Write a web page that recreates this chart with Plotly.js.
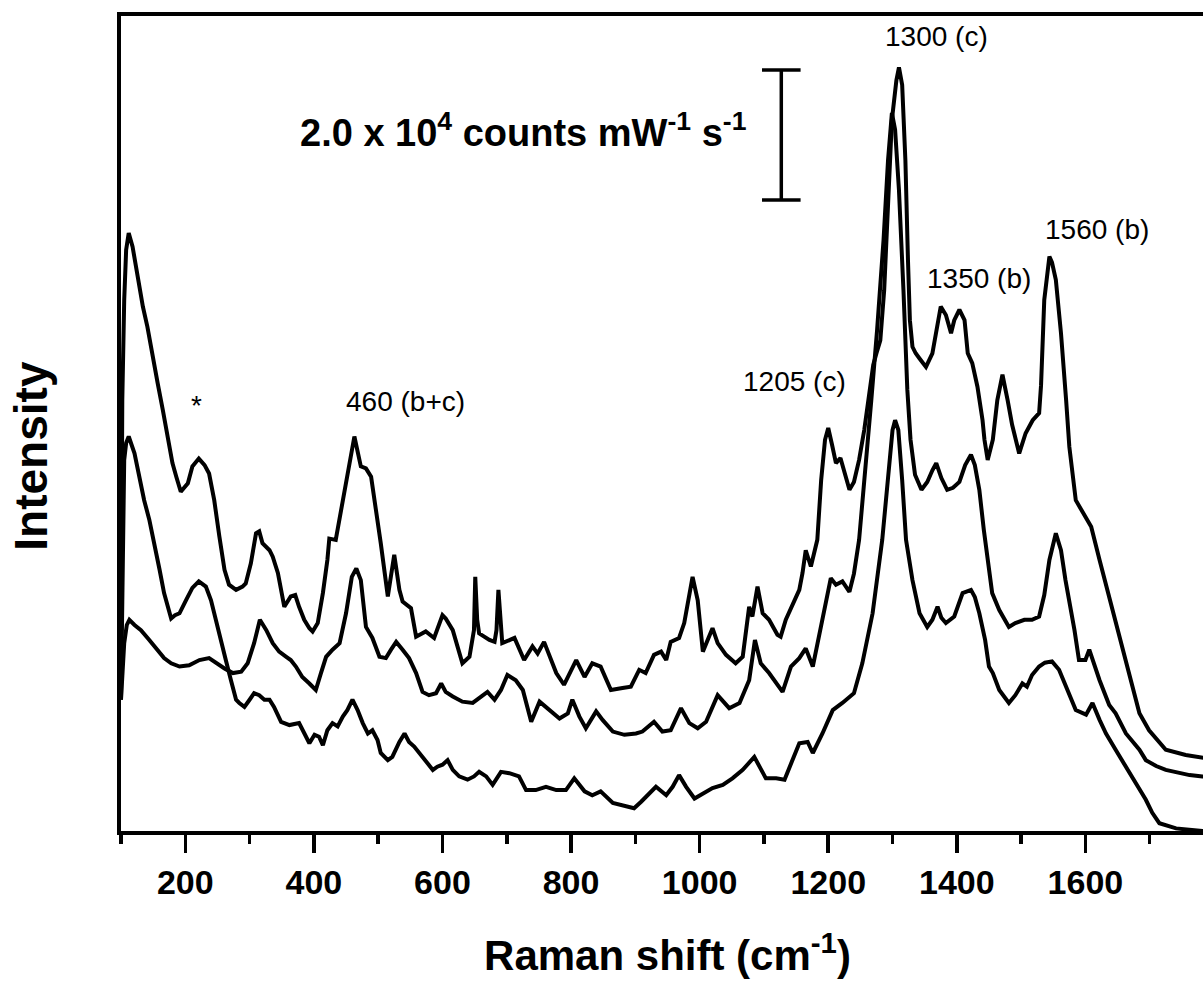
<!DOCTYPE html>
<html>
<head>
<meta charset="utf-8">
<script src="https://cdn.plot.ly/plotly-3.0.1.min.js"></script>
<style>
  html, body { margin: 0; padding: 0; overflow: hidden; background: #fff; }
  #chart { width: 1220px; height: 985px; }
</style>
</head>
<body>
<div id="chart"></div>
<script>
// Raman shift (cm^-1) and stacked intensity (10^4 counts mW^-1 s^-1) for the three spectra
const topShift = [100,102,105,108,112,118,126,134,141,149,157,165,172,180,186,193,204,211,221,230,237,245,253,261,268,279,289,294,302,310,315,320,331,336,344,354,364,371,377,385,393,398,406,414,421,424,434,445,452,463,473,481,489,497,504,515,525,533,538,551,559,574,587,600,605,616,631,642,649,651,654,657,673,681,684,687,691,693,712,727,740,748,758,777,789,808,821,833,846,862,880,893,906,916,929,940,948,955,968,976,989,997,1005,1020,1028,1041,1056,1067,1077,1082,1090,1098,1108,1121,1126,1134,1155,1160,1165,1173,1183,1189,1195,1200,1206,1212,1219,1225,1233,1240,1248,1256,1264,1270,1275,1281,1287,1293,1299,1306,1310,1315,1320,1324,1327,1331,1336,1342,1352,1362,1370,1375,1383,1391,1396,1404,1412,1417,1424,1432,1440,1443,1448,1456,1463,1471,1479,1486,1497,1507,1518,1528,1531,1536,1544,1548,1554,1562,1570,1575,1585,1596,1609,1622,1637,1647,1663,1684,1699,1725,1756,1782,1800];
const topIntensity = [2.82,6.66,8.20,8.97,9.23,9.02,8.56,8.10,7.79,7.33,6.92,6.51,6.10,5.69,5.48,5.25,5.38,5.64,5.76,5.66,5.53,5.12,4.56,4.05,3.82,3.74,3.79,3.84,4.15,4.61,4.64,4.46,4.35,4.25,4.00,3.48,3.64,3.66,3.48,3.28,3.15,3.10,3.23,3.69,4.20,4.53,4.51,5.12,5.48,6.10,5.64,5.61,5.48,4.97,4.46,3.64,4.28,3.74,3.56,3.46,3.02,3.10,3.00,3.35,3.30,3.12,2.61,2.71,3.12,3.94,3.28,3.07,2.97,2.94,3.12,3.74,3.12,2.92,3.00,2.66,2.87,2.76,2.94,2.46,2.28,2.66,2.40,2.61,2.56,2.20,2.23,2.25,2.51,2.46,2.74,2.79,2.66,2.94,3.00,3.23,3.94,3.58,2.79,3.15,2.92,2.74,2.61,2.71,3.48,3.33,3.79,3.38,3.28,3.05,3.02,3.28,3.74,4.00,4.35,4.10,4.51,5.43,6.05,6.23,5.97,5.69,5.77,5.58,5.28,5.40,5.74,6.20,6.74,7.20,7.38,7.58,8.35,9.74,10.97,11.58,11.78,11.51,10.35,8.82,7.89,7.48,7.38,7.30,7.17,7.38,7.79,8.10,7.97,7.69,7.89,8.05,7.89,7.38,7.23,6.87,6.35,6.05,5.74,6.05,6.66,7.05,6.66,6.28,5.84,6.15,6.35,6.46,6.89,8.20,8.87,8.78,8.51,7.69,6.66,5.94,5.12,4.92,4.71,4.20,3.64,3.28,2.66,1.84,1.58,1.28,1.20,1.15,1.13];

const midShift = [100,102,105,109,113,121,131,144,157,167,178,191,206,222,237,248,261,274,287,297,307,316,326,336,346,357,364,372,382,393,403,411,419,429,440,450,459,466,473,481,491,502,512,520,528,538,548,559,569,579,590,598,605,616,631,647,657,670,681,691,701,714,725,738,751,766,782,795,802,813,823,839,849,865,883,901,911,929,942,955,971,984,997,1010,1028,1046,1062,1077,1086,1095,1108,1129,1142,1155,1165,1176,1191,1204,1212,1222,1233,1240,1248,1258,1267,1276,1286,1293,1299,1304,1310,1317,1323,1328,1335,1345,1354,1362,1368,1376,1385,1394,1404,1413,1422,1428,1435,1442,1450,1455,1466,1474,1481,1491,1505,1517,1528,1536,1544,1554,1562,1569,1575,1583,1590,1600,1606,1612,1622,1637,1647,1663,1684,1694,1710,1725,1746,1762,1782,1800];
const midIntensity = [2.05,2.51,2.92,3.20,3.28,3.20,3.12,2.97,2.82,2.69,2.61,2.56,2.58,2.66,2.69,2.61,2.53,2.46,2.48,2.61,2.92,3.28,3.12,2.92,2.79,2.71,2.66,2.56,2.40,2.30,2.20,2.46,2.71,2.82,2.92,3.38,3.94,4.07,3.89,3.17,3.00,2.71,2.69,2.82,2.94,2.82,2.69,2.46,2.17,2.12,2.15,2.30,2.17,2.10,2.02,2.00,2.07,2.17,2.05,2.20,2.43,2.35,2.20,1.71,2.02,1.89,1.76,1.84,2.05,1.79,1.61,1.87,1.74,1.56,1.51,1.53,1.56,1.71,1.56,1.58,1.92,1.69,1.61,1.71,2.12,1.92,2.00,2.35,2.97,2.61,2.46,2.17,2.56,2.69,2.84,2.56,3.28,3.92,3.82,3.87,3.71,3.99,4.51,5.58,6.66,7.74,9.12,10.35,11.08,10.82,9.89,8.35,6.82,6.05,5.51,5.28,5.40,5.58,5.69,5.46,5.28,5.31,5.40,5.66,5.82,5.66,5.28,4.66,4.05,3.69,3.43,3.28,3.17,3.23,3.28,3.28,3.33,3.66,4.20,4.61,4.35,3.89,3.58,3.12,2.66,2.66,2.82,2.63,2.35,1.97,1.84,1.53,1.28,1.12,1.03,0.97,0.92,0.89,0.87,0.86];

const lowShift = [100,102,105,108,112,121,128,136,144,152,160,167,178,184,191,201,211,221,232,240,248,256,263,271,279,284,292,300,307,315,323,331,338,349,362,377,385,393,401,408,414,421,429,437,445,452,460,468,476,484,491,499,504,515,522,533,541,548,556,564,574,585,592,600,608,616,626,639,649,657,668,678,691,704,719,730,745,761,777,792,805,815,821,833,846,865,880,898,909,922,932,948,958,968,979,992,1005,1020,1036,1051,1067,1085,1103,1119,1132,1142,1155,1168,1176,1191,1207,1222,1240,1253,1269,1284,1293,1300,1304,1309,1315,1321,1331,1342,1354,1362,1370,1376,1383,1396,1409,1422,1428,1435,1444,1450,1456,1466,1481,1491,1502,1509,1517,1528,1537,1548,1559,1575,1585,1601,1611,1622,1632,1647,1663,1679,1694,1704,1715,1741,1762,1782,1800];
const lowIntensity = [2.05,4.20,5.74,6.00,6.10,5.84,5.48,5.12,4.82,4.46,4.05,3.69,3.30,3.35,3.38,3.58,3.77,3.87,3.79,3.58,3.28,2.97,2.66,2.35,2.05,2.00,1.94,2.05,2.15,2.12,2.05,2.05,1.94,1.71,1.66,1.69,1.53,1.38,1.51,1.48,1.35,1.58,1.69,1.64,1.79,1.89,2.05,1.89,1.69,1.53,1.58,1.43,1.23,1.12,1.17,1.40,1.53,1.40,1.33,1.23,1.12,0.97,1.02,1.05,1.12,0.97,0.87,0.82,0.87,0.94,0.87,0.74,0.94,0.92,0.87,0.66,0.66,0.71,0.66,0.66,0.84,0.71,0.64,0.58,0.64,0.46,0.43,0.38,0.48,0.61,0.71,0.58,0.71,0.89,0.71,0.53,0.61,0.69,0.74,0.84,0.97,1.17,0.84,0.84,0.82,1.07,1.38,1.40,1.23,1.53,1.89,2.00,2.15,2.61,3.38,4.51,5.43,6.20,6.35,6.20,5.43,4.51,3.89,3.38,3.17,3.28,3.48,3.31,3.23,3.33,3.69,3.74,3.63,3.38,2.97,2.56,2.46,2.20,2.00,2.12,2.30,2.25,2.43,2.56,2.62,2.64,2.51,2.12,1.89,1.82,2.00,1.74,1.53,1.28,1.02,0.74,0.51,0.31,0.15,0.07,0.05,0.03,0.03];

// Peak labels: text, Raman shift, intensity
const labelText = ['*', '460 (b+c)', '1205 (c)', '1300 (c)', '1350 (b)', '1560 (b)'];
const labelShift = [218, 542, 1147, 1369, 1434, 1618];
const labelIntensity = [6.57, 6.64, 6.94, 12.26, 8.53, 9.28];

// Intensity scale bar: 2.0 x 10^4 counts mW^-1 s^-1
const scaleBarShift = 1127;
const scaleBarBase = 9.74;
const scaleBarLength = 2.0;
const scaleBarCap = 30;

const FONT = '"Liberation Sans", Arial, Helvetica, sans-serif';
const lineStyle = { color: '#000', width: 4 };

const traces = [
  { x: topShift, y: topIntensity, type: 'scatter', mode: 'lines', line: lineStyle, hoverinfo: 'skip' },
  { x: midShift, y: midIntensity, type: 'scatter', mode: 'lines', line: lineStyle, hoverinfo: 'skip' },
  { x: lowShift, y: lowIntensity, type: 'scatter', mode: 'lines', line: lineStyle, hoverinfo: 'skip' }
];

const annotations = labelText.map((t, i) => ({
  x: labelShift[i], y: labelIntensity[i], xref: 'x', yref: 'y',
  text: t, showarrow: false, xanchor: 'center', yanchor: 'middle',
  font: { family: FONT, size: 28, color: '#000' }
}));

annotations.push({
  x: 726, y: 10.82, xref: 'x', yref: 'y',
  text: '2.0 x 10<sup>4</sup> counts mW<sup>-1</sup> s<sup>-1</sup>',
  showarrow: false, xanchor: 'center', yanchor: 'middle',
  font: { family: FONT, size: 38, color: '#000', weight: 'bold' }
});

annotations.push({
  x: -0.082, y: 0.461, xref: 'paper', yref: 'paper',
  text: 'Intensity', textangle: -90, showarrow: false,
  xanchor: 'center', yanchor: 'middle',
  font: { family: FONT, size: 46, color: '#000', weight: 'bold' }
});

const barTop = scaleBarBase + scaleBarLength;
const shapes = [
  { type: 'line', xref: 'x', yref: 'y', x0: scaleBarShift, x1: scaleBarShift, y0: scaleBarBase, y1: barTop, line: { color: '#000', width: 3.5 } },
  { type: 'line', xref: 'x', yref: 'y', x0: scaleBarShift - scaleBarCap, x1: scaleBarShift + scaleBarCap, y0: scaleBarBase, y1: scaleBarBase, line: { color: '#000', width: 3.5 } },
  { type: 'line', xref: 'x', yref: 'y', x0: scaleBarShift - scaleBarCap, x1: scaleBarShift + scaleBarCap, y0: barTop, y1: barTop, line: { color: '#000', width: 3.5 } }
];

const layout = {
  width: 1220, height: 985,
  margin: { l: 121, r: 6, t: 16, b: 154 },
  paper_bgcolor: '#fff', plot_bgcolor: '#fff',
  showlegend: false,
  font: { family: FONT, color: '#000' },
  xaxis: {
    range: [100, 1800],
    showline: true, linecolor: '#000', linewidth: 4, mirror: true,
    showgrid: false, zeroline: false,
    ticks: 'outside', ticklen: 18, tickwidth: 3.5, tickcolor: '#000',
    tick0: 0, dtick: 200,
    tickfont: { family: FONT, size: 34, color: '#000', weight: 'bold' },
    minor: { dtick: 100, ticks: 'outside', ticklen: 9, tickwidth: 3.5, tickcolor: '#000', showgrid: false },
    title: { text: 'Raman shift (cm<sup>-1</sup>)', standoff: 42,
             font: { family: FONT, size: 42, color: '#000', weight: 'bold' } },
    automargin: false
  },
  yaxis: {
    range: [0.03, 12.57],
    showline: true, linecolor: '#000', linewidth: 4, mirror: true,
    showgrid: false, zeroline: false, ticks: '', showticklabels: false,
    automargin: false
  },
  shapes: shapes,
  annotations: annotations
};

Plotly.newPlot('chart', traces, layout, { staticPlot: true, displayModeBar: false });
</script>
</body>
</html>
